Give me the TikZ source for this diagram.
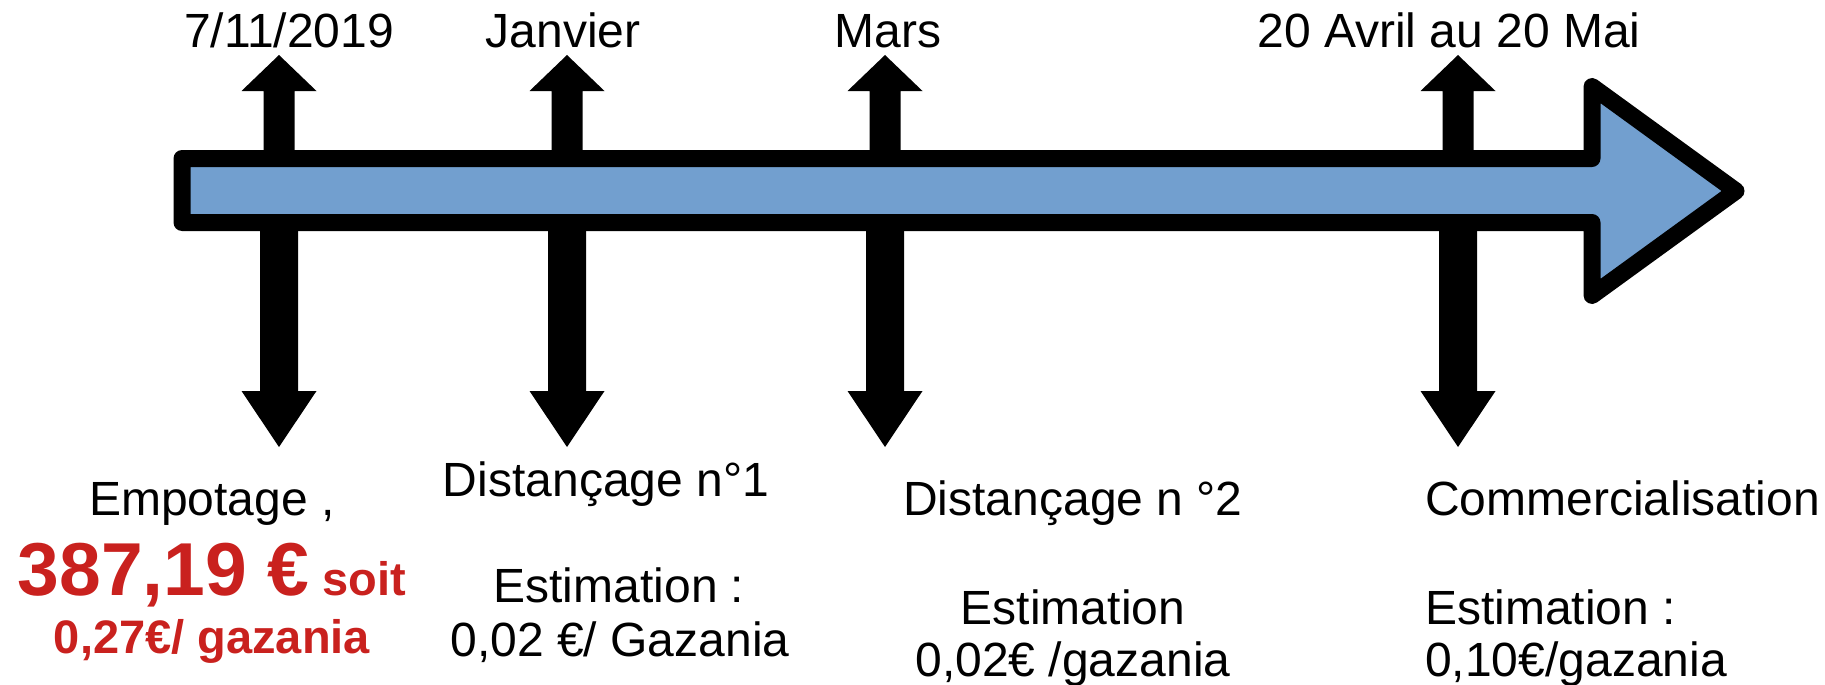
\documentclass[tikz,border=0pt]{standalone}
\usepackage{fontspec}
\setmainfont{Liberation Sans}
\definecolor{arrowblue}{RGB}{114,159,207}
\definecolor{costred}{RGB}{201,33,30}
\begin{document}
\begin{tikzpicture}[x=1pt,y=-1pt,
  lbl/.style={anchor=base,inner sep=0pt,font=\fontsize{48}{56}\selectfont},
  lbll/.style={anchor=base west,inner sep=0pt,font=\fontsize{48}{56}\selectfont},
  redlbl/.style={anchor=base,inner sep=0pt,text=costred,font=\bfseries}]
\useasboundingbox (0,0) rectangle (1825,685);
% vertical arrows
\foreach \x in {279,567,885,1458}{
  \fill ({\x-15.5},160) -- ({\x-15.5},91) -- ({\x-37.5},91) -- (\x,55)
        -- ({\x+37.5},91) -- ({\x+15.5},91) -- ({\x+15.5},160) -- cycle;
  \fill ({\x-19},222) -- ({\x-19},391) -- ({\x-37.5},391) -- (\x,447)
        -- ({\x+37.5},391) -- ({\x+19},391) -- ({\x+19},222) -- cycle;
}
% main timeline arrow
\draw[line width=17pt,line join=round,fill=arrowblue]
  (182,158.5) -- (1592,158.5) -- (1592,86.5) -- (1736,191)
  -- (1592,295.5) -- (1592,222.5) -- (182,222.5) -- cycle;
% top labels
\node[lbl] (t1) at (289,48) {7/11/2019};
\node[lbl] (t2) at (563,48) {Janvier};
\node[lbl] (t3) at (888,48) {Mars};
\node[lbl] (t4) at (1449,48) {20 Avril au 20 Mai};
% bottom labels
\node[lbl] (b1a) at (212,515) {Empotage ,};
\node[redlbl] (b1b) at (212,595) {{\fontsize{75}{80}\selectfont 387,19 €}{\fontsize{47}{56}\selectfont\ soit}};
\node[redlbl,font=\bfseries\fontsize{47}{56}\selectfont] (b1c) at (212,653) {0,27€/ gazania};
\node[lbl] (b2a) at (606,496) {Distançage n°1};
\node[lbl] (b2b) at (619,602) {Estimation :};
\node[lbl] (b2c) at (620,656) {0,02 €/ Gazania};
\node[lbl] (b3a) at (1073,515) {Distançage n °2};
\node[lbl] (b3b) at (1073,624) {Estimation};
\node[lbl] (b3c) at (1073,676) {0,02€ /gazania};
\node[lbll] (b4a) at (1425,515) {Commercialisation};
\node[lbll] (b4b) at (1425,624) {Estimation :};
\node[lbll] (b4c) at (1425,676) {0,10€/gazania};
\end{tikzpicture}
\end{document}
